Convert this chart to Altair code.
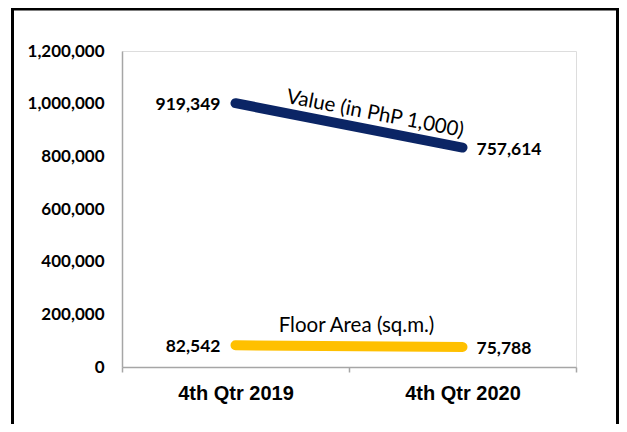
import altair as alt
import pandas as pd

quarters = ["4th Qtr 2019", "4th Qtr 2020"]
floor_area = [82542, 75788]
value_php = [919349, 757614]
series_names = ["Floor Area (sq.m.)", "Value (in PhP 1,000)"]
series_colors = ["#FFC000", "#0B2565"]
y_ticks = [0, 200000, 400000, 600000, 800000, 1000000, 1200000]

rows = []
for i, q in enumerate(quarters):
    rows.append({"quarter": q, "series": series_names[0], "order": 0, "v": floor_area[i]})
    rows.append({"quarter": q, "series": series_names[1], "order": 1, "v": value_php[i]})
df = pd.DataFrame(rows)

base = alt.Chart(df).transform_stack(
    stack="v", groupby=["quarter"], as_=["y0", "y1"],
    sort=[alt.SortField(field="order", order="ascending")]
)

x_enc = alt.X(
    "quarter:N", title=None, bandPosition=0.5,
    scale=alt.Scale(type="band", domain=quarters, paddingInner=0, paddingOuter=0),
    axis=alt.Axis(labelAngle=0, labelFont="Liberation Sans", labelFontWeight="bold",
                  labelFontSize=20, labelColor="black", tickSize=5, labelPadding=11,
                  tickBand="extent", domainColor="#A6A6A6", tickColor="#A6A6A6",
                  domainWidth=1.5, tickWidth=1.5, grid=False),
)
y_enc = alt.Y(
    "y1:Q", title=None,
    scale=alt.Scale(domain=[0, 1200000], nice=False),
    axis=alt.Axis(values=y_ticks, format=",d", grid=False, ticks=False, tickSize=0,
                  labelFont="Lato", labelFontWeight="bold", labelFontSize=17,
                  labelColor="black", labelPadding=18, domainColor="#A6A6A6",
                  domainWidth=1.5),
)
color_enc = alt.Color("series:N", scale=alt.Scale(domain=series_names, range=series_colors), legend=None)

lines = base.mark_line(strokeWidth=10, strokeCap="round", strokeJoin="round").encode(
    x=x_enc, y=y_enc, color=color_enc
)

left_nums = base.transform_filter(alt.datum.quarter == quarters[0]).mark_text(
    align="right", baseline="middle", dx=-15, dy=2, font="Lato", fontWeight="bold",
    fontSize=17.5, color="black"
).encode(x=x_enc, y=y_enc, text=alt.Text("v:Q", format=",d"))

right_nums = base.transform_filter(alt.datum.quarter == quarters[1]).mark_text(
    align="left", baseline="middle", dx=14, dy=2, font="Lato", fontWeight="bold",
    fontSize=17.5, color="black"
).encode(x=x_enc, y=y_enc, text=alt.Text("v:Q", format=",d"))

floor_name = base.transform_filter(
    (alt.datum.quarter == quarters[0]) & (alt.datum.series == series_names[0])
).mark_text(
    align="center", baseline="middle", dx=121, dy=-19, font="Lato", fontSize=20.5, color="black"
).encode(x=x_enc, y=y_enc, text="series:N")

value_name = base.transform_filter(
    (alt.datum.quarter == quarters[0]) & (alt.datum.series == series_names[1])
).mark_text(
    align="center", baseline="middle", angle=11, dx=139, dy=-16, font="Lato", fontSize=20.5,
    color="black"
).encode(x=x_enc, y=y_enc, text="series:N")

frame = alt.Chart(pd.DataFrame({"f": [0]})).mark_rect(
    filled=False, stroke="black", strokeWidth=3
).encode(
    x=alt.value(-109.5), x2=alt.value(495.5), y=alt.value(-42), y2=alt.value(390)
)

chart = alt.layer(frame, lines, left_nums, right_nums, floor_name, value_name).properties(
    width=454, height=316,
    autosize=alt.AutoSizeParams(type="none"),
    padding={"left": 114, "top": 43, "right": 43, "bottom": 57},
).configure_view(stroke=None).configure(background="white")

chart.save("out.html", embed_options={"renderer": "svg", "actions": False})
